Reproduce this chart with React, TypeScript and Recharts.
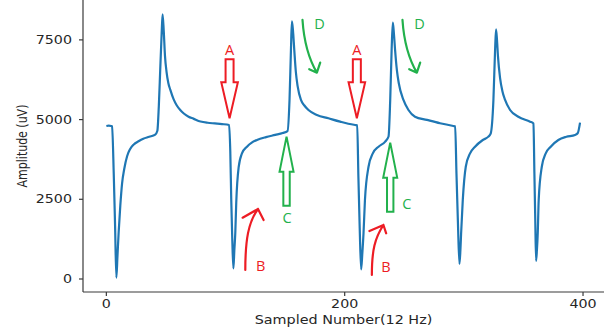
import React from 'react';
import { LineChart, Line, XAxis, YAxis, ReferenceDot } from 'recharts';

// Sample index (12 Hz) and amplitude (uV)
const sampleIndex = [
  0, 2, 4, 4.8, 6.2, 7.3, 8.4, 9.3, 10.3, 11.7, 13.2, 15, 17.4, 20, 23, 27, 31, 36, 41, 42.8, 44, 45.3, 46.4, 47.2, 48.2, 49.2, 50.5, 52, 53.7, 56.4, 59, 62, 65, 69, 73, 79, 85, 91, 97, 103,
  104, 104.8, 105.7, 106.6, 107.4, 108.2, 109, 111, 113.8, 118, 122, 126.4, 134, 141.7, 148, 152, 153.7, 154.9, 155.7, 156.6, 157.7, 159, 160.5, 163.3, 166, 169.6, 176.7, 186.4, 196.2, 203, 208.8, 210.5,
  211.5, 212.6, 213.8, 214.8, 215.8, 217, 220, 223.6, 228.4, 234, 236.8, 238.2, 239.4, 240.4, 241.3, 242.3, 243.8, 245.4, 249.3, 253.5, 259, 269, 280, 291.2, 292.7,
  293.8, 295, 296.3, 297.1, 297.7, 299.1, 301.6, 305.2, 309.4, 315.9, 320.6, 322.5, 324.8, 326.2, 327, 327.8, 328.6, 330.4, 332.3, 334.6, 338.8, 345.7, 355.6, 358.4,
  359.2, 359.9, 360.6, 361.3, 362, 362.8, 365.4, 368.7, 372.9, 379.3, 386, 393.3, 395.5, 397.5,
];
const amplitudeUV = [
  4800, 4810, 4800, 4790, 3300, 1700, 40, 700, 1450, 2300, 3000, 3450, 3850, 4080, 4220, 4320, 4400, 4460, 4530, 4650, 5400, 6660, 7700, 8300, 7750, 7000, 6500, 6150, 5930, 5640, 5450, 5300, 5190, 5090, 5030, 4940, 4900, 4880, 4860, 4830,
  4000, 2500, 1200, 330, 900, 1450, 2400, 3500, 3940, 4150, 4280, 4360, 4450, 4520, 4580, 4640, 5615, 7180, 8080, 7800, 7180, 6500, 6050, 5615, 5450, 5300, 5145, 5040, 4935, 4870, 4830, 4820,
  3200, 1600, 300, 800, 1433, 2480, 3520, 3940, 4150, 4310, 4470, 5615, 7200, 8040, 7700, 7180, 6550, 6140, 5615, 5300, 5090, 4990, 4885, 4800, 4790,
  3300, 1800, 470, 900, 1433, 2480, 3520, 3940, 4150, 4360, 4465, 4560, 5615, 7180, 7830, 7500, 7000, 6300, 5900, 5615, 5300, 5090, 4935, 4880,
  3300, 1900, 570, 900, 1433, 2480, 3520, 3940, 4150, 4360, 4460, 4520, 4570, 4905,
];

const xTicks = [0, 200, 400];
const yTicks = [0, 2500, 5000, 7500];
const xDomain = [-19.6, 417.6];
const yDomain = [-408, 8751];

const xTitle = 'Sampled Number(12 Hz)';
const yTitle = 'Amplitude (uV)';

// annotation anchors (data coordinates)
const markA = [{ x: 103.4, y: 5041 }, { x: 210.2, y: 5041 }];
const markB = [{ x: 116.6, y: 282 }, { x: 222.8, y: 125 }];
const markC = [{ x: 151.2, y: 4464 }, { x: 238.2, y: 4276 }];
const markD = [{ x: 164.6, y: 8125 }, { x: 248.5, y: 8125 }];

const data = sampleIndex.map((x, i) => ({ x, v: amplitudeUV[i] }));

const RED = '#ed1c24';
const GREEN = '#22b14c';
const BLUE = '#1f77b4';
const TEXT = '#262626';
const AXIS = '#3a3a3a';
const SX = 1.24;
const FONT = '"DejaVu Sans", sans-serif';
const LFONT = '"Open Sans", "DejaVu Sans", sans-serif';

const XTick = (props: any) => {
  const { x, y, payload } = props;
  return (
    <text transform={`translate(${x},${y + 6}) scale(${SX},1)`} textAnchor="middle" dominantBaseline="central"
      fontSize={11.5} fontFamily={FONT} fill={TEXT}>{payload.value}</text>
  );
};
const YTick = (props: any) => {
  const { x, y, payload } = props;
  return (
    <text transform={`translate(${x - 5},${y}) scale(${SX},1)`} textAnchor="end" dominantBaseline="central"
      fontSize={11.5} fontFamily={FONT} fill={TEXT}>{payload.value}</text>
  );
};

const XTitle = (props: any) => {
  const vb = props.viewBox || {};
  return (
    <text transform={`translate(${vb.x + vb.width / 2},${vb.y + 28}) scale(${SX},1)`} textAnchor="middle"
      dominantBaseline="central" fontSize={11.6} fontFamily={FONT} fill={TEXT}>{xTitle}</text>
  );
};
const YTitle = (props: any) => {
  const vb = props.viewBox || {};
  return (
    <text transform={`translate(${vb.x + 21.7},${vb.y + vb.height / 2}) scale(${SX},1) rotate(-90)`} textAnchor="middle"
      dominantBaseline="central" fontSize={11} fontFamily={FONT} fill={TEXT}>{yTitle}</text>
  );
};

const Letter = ({ x, y, c, t }: any) => (
  <text x={x} y={y} textAnchor="middle" dominantBaseline="central" fontSize={14.5} fontFamily={LFONT} fill={c}>{t}</text>
);

const ArrowA = (p: any) => (
  <g transform={`translate(${p.cx},${p.cy})`}>
    <polygon points="-4,-59 4,-59 4,-36 8.3,-36 0,0 -8.3,-36 -4,-36" fill="none" stroke={RED} strokeWidth={2} />
    <Letter x={0} y={-69} c={RED} t="A" />
  </g>
);
const ArrowC = (p: any, i: number) => {
  const lx = i === 0 ? 0.4 : 16.5;
  const ly = i === 0 ? 81 : 61.3;
  return (
    <g transform={`translate(${p.cx},${p.cy})`}>
      <polygon points="0,0 7,35 3.2,35 3.2,69 -3.2,69 -3.2,35 -7,35" fill="none" stroke={GREEN} strokeWidth={2} />
      <Letter x={lx} y={ly} c={GREEN} t="C" />
    </g>
  );
};
const ArrowB = (p: any, i: number) => {
  const path = i === 0
    ? 'M0 0 C0 -30 3 -48 12.7 -61 M-2.7 -52.3 L12.7 -61 L18.3 -50'
    : 'M0 0 C0 -25 3 -37 11.6 -50 M-2.4 -44 L11.6 -50 L14.3 -41.7';
  const lx = i === 0 ? 15.3 : 14;
  const ly = i === 0 ? -5 : -8.7;
  return (
    <g transform={`translate(${p.cx},${p.cy})`}>
      <path d={path} fill="none" stroke={RED} strokeWidth={2.2} strokeLinecap="round" strokeLinejoin="round" />
      <Letter x={lx} y={ly} c={RED} t="B" />
    </g>
  );
};
const ArrowD = (p: any) => (
  <g transform={`translate(${p.cx},${p.cy})`}>
    <path d="M0 0 C1 15 4 35 14.4 52.7 M6.7 49.3 L14.4 52.7 L17.7 42.7" fill="none" stroke={GREEN} strokeWidth={2.2}
      strokeLinecap="round" strokeLinejoin="round" />
    <Letter x={17} y={3.3} c={GREEN} t="D" />
  </g>
);

export default function App() {
  return (
    <div style={{ position: 'absolute', left: 0, top: 0, width: 606, height: 336, background: '#fff' }}>
      <LineChart width={606} height={336} data={data} margin={{ top: 0, right: 2, bottom: 0, left: 0 }}>
        <XAxis dataKey="x" type="number" domain={xDomain} ticks={xTicks} allowDataOverflow height={44}
          tickSize={4} tickMargin={2} tick={<XTick />} stroke={AXIS} strokeWidth={1.2} label={<XTitle />} />
        <YAxis type="number" domain={yDomain} ticks={yTicks} allowDataOverflow width={83}
          tickSize={4} tickMargin={2} tick={<YTick />} stroke={AXIS} strokeWidth={1.2} label={<YTitle />} />
        <Line dataKey="v" type="monotoneX" stroke={BLUE} strokeWidth={2.2} dot={false} activeDot={false}
          strokeLinejoin="round" isAnimationActive={false} />
        {markA.map((m, i) => (
          <ReferenceDot key={`a${i}`} x={m.x} y={m.y} ifOverflow="visible" shape={(p: any) => ArrowA(p)} />
        ))}
        {markB.map((m, i) => (
          <ReferenceDot key={`b${i}`} x={m.x} y={m.y} ifOverflow="visible" shape={(p: any) => ArrowB(p, i)} />
        ))}
        {markC.map((m, i) => (
          <ReferenceDot key={`c${i}`} x={m.x} y={m.y} ifOverflow="visible" shape={(p: any) => ArrowC(p, i)} />
        ))}
        {markD.map((m, i) => (
          <ReferenceDot key={`d${i}`} x={m.x} y={m.y} ifOverflow="visible" shape={(p: any) => ArrowD(p)} />
        ))}
      </LineChart>
    </div>
  );
}
